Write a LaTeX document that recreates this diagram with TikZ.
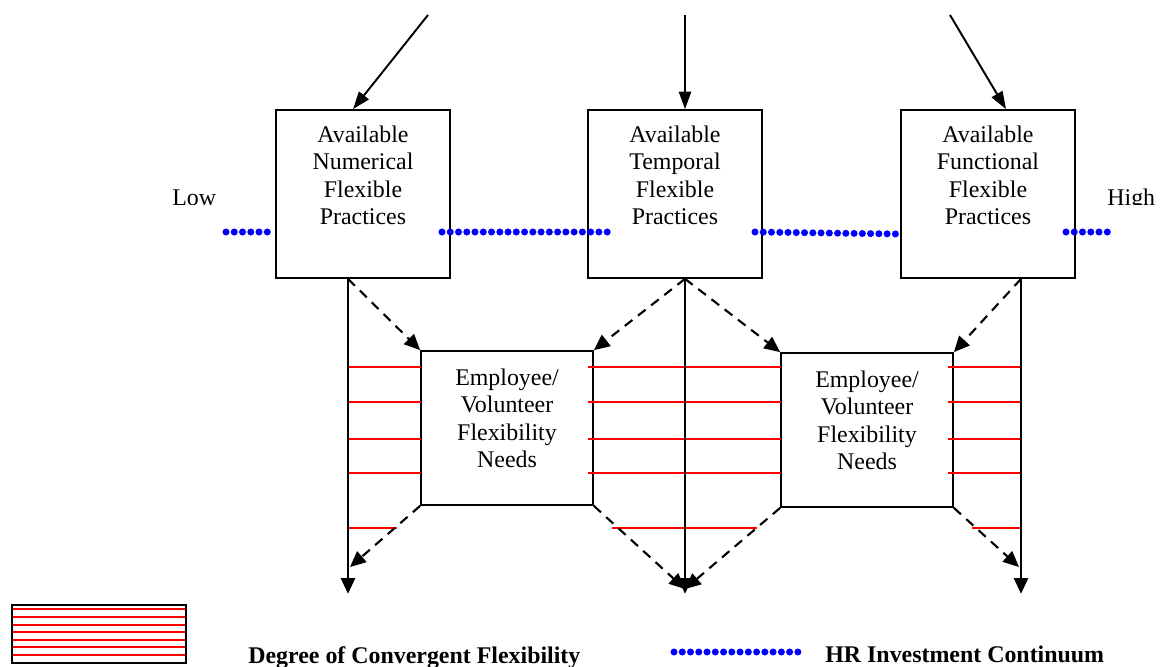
\documentclass[tikz,border=0pt]{standalone}
\usepackage{fontspec}
\setmainfont{Liberation Serif}
\usetikzlibrary{arrows.meta,positioning,calc}

\tikzset{
  practbox/.style={draw, line width=1pt, inner sep=0pt, minimum width=3.48cm, minimum height=3.36cm},
  needbox/.style={draw, line width=1pt, inner sep=0pt, minimum width=3.44cm, minimum height=3.08cm},
  boxtext/.style={align=center, inner sep=0pt, font=\fontsize{13.6}{15.7}\selectfont},
  keytext/.style={inner sep=0pt, font=\fontsize{13.6}{15.7}\selectfont\bfseries},
  feed/.style={line width=1.1pt, -{Triangle[length=10pt,width=7pt]}},
  spine/.style={line width=1.4pt, -{Triangle[length=9pt,width=8pt]}},
  link/.style={line width=1.2pt, dash pattern=on 5.5pt off 4pt, -{Triangle[length=9pt,width=8pt]}},
  hrdots/.style={blue, line width=4pt, line cap=round, dash pattern=on 0pt off 4.7pt},
  conv/.style={red, line width=0.9pt},
}

\begin{document}
\begin{tikzpicture}[x=0.02cm, y=-0.02cm]
\useasboundingbox (0,0) rectangle (1176,666);

% practice boxes
\node[practbox] (num) at (363,194) {};
\node[practbox] (temp) at (675,194) {};
\node[practbox] (func) at (988,194) {};
\node[boxtext, below=0.32cm of num.north] (numtxt) {Available\\Numerical\\Flexible\\Practices};
\node[boxtext, below=0.32cm of temp.north] (temptxt) {Available\\Temporal\\Flexible\\Practices};
\node[boxtext, below=0.32cm of func.north] (functxt) {Available\\Functional\\Flexible\\Practices};

% needs boxes
\node[needbox] (needA) at (507,428) {};
\node[needbox] (needB) at (867,430) {};
\node[boxtext, below=0.36cm of needA.north] (needAtxt) {Employee/\\Volunteer\\Flexibility\\Needs};
\node[boxtext, below=0.36cm of needB.north] (needBtxt) {Employee/\\Volunteer\\Flexibility\\Needs};

% ends of the continuum (cut off at the bottom)
\begin{scope}
  \clip (150,180) rectangle (1176,204);
  \node[boxtext, anchor=base west] (low) at (172,205) {Low};
  \node[boxtext, anchor=base west] (high) at (1107,205) {High};
\end{scope}

% incoming arrows
\coordinate (srcA) at (428,15);
\coordinate (srcB) at (685,15);
\coordinate (srcC) at (950,15);
\draw[feed] (srcA) -- ($(num.north)+(-10,0)$);
\draw[feed] (srcB) -- ($(temp.north)+(10,0)$);
\draw[feed] (srcC) -- ($(func.north)+(18,0)$);

% spines
\coordinate (numout) at ($(num.south)+(-15,0)$);
\coordinate (tempout) at ($(temp.south)+(10,0)$);
\coordinate (funcout) at ($(func.south)+(33,0)$);
\coordinate (numend) at ($(numout)+(0,315)$);
\coordinate (tempend) at ($(tempout)+(0,315)$);
\coordinate (funcend) at ($(funcout)+(0,315)$);
\coordinate (numhit) at (350,567);
\coordinate (midhit) at (685,589);
\coordinate (funchit) at (1019,567);

% convergence hatching
\foreach \y in {367,402,439,473}{
  \draw[conv] (348,\y) -- (421,\y);
  \draw[conv] (588,\y) -- (781,\y);
  \draw[conv] (948,\y) -- (1021,\y);
}
\draw[conv] (348,528) -- (397,528);
\draw[conv] (612,528) -- (757,528);
\draw[conv] (972,528) -- (1021,528);

\draw[spine] (numout) -- (numend);
\draw[spine] (tempout) -- (tempend);
\draw[spine] (funcout) -- (funcend);

\draw[link] (numout) -- (needA.north west);
\draw[link] (tempout) -- (needA.north east);
\draw[link] (tempout) -- (needB.north west);
\draw[link] (funcout) -- (needB.north east);
\draw[link] (needA.south west) -- (numhit);
\draw[link] (needA.south east) -- (midhit);
\draw[link] (needB.south west) -- (midhit);
\draw[link] (needB.south east) -- (funchit);

% HR investment continuum
\draw[hrdots] (226,232) -- (273,232);
\draw[hrdots] (442,232) -- (614,232);
\draw[hrdots] (755,232) -- (898,234);
\draw[hrdots] (1066,232) -- (1113,232);

% key
\node[draw, line width=1pt, inner sep=0pt, minimum width=3.48cm, minimum height=1.16cm] (convkey) at (99,634) {};
\foreach \y in {609,617,625,632,640,647,655}
  \draw[red, line width=1pt] (13,\y) -- (185,\y);
\node[keytext, anchor=base west] (convlbl) at (248,663) {Degree of Convergent Flexibility};
\draw[hrdots] (674,652) -- (800,652);
\node[keytext, anchor=base west] (hrlbl) at (825,662) {HR Investment Continuum};
\end{tikzpicture}
\end{document}
